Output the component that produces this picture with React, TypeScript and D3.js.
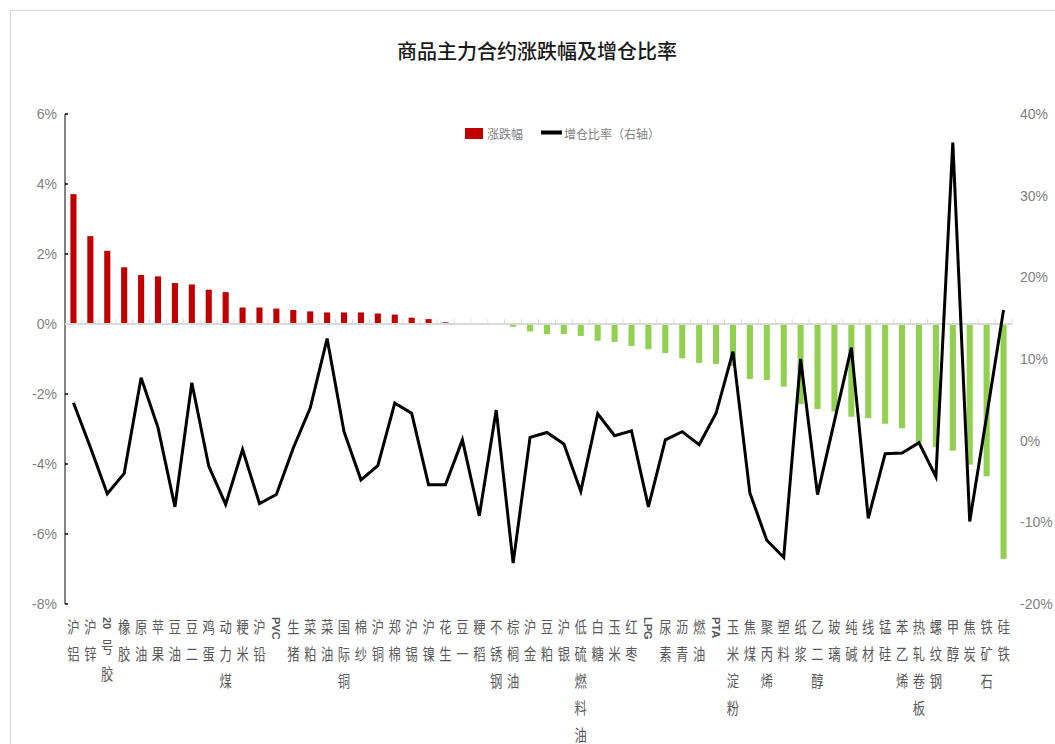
import React from "react";
import * as d3 from "d3";

const categories = [
  "沪铝", "沪锌", "20号胶", "橡胶", "原油", "苹果", "豆油", "豆二", "鸡蛋", "动力煤",
  "粳米", "沪铅", "PVC", "生猪", "菜粕", "菜油", "国际铜", "棉纱", "沪铜", "郑棉",
  "沪锡", "沪镍", "花生", "豆一", "粳稻", "不锈钢", "棕榈油", "沪金", "豆粕", "沪银",
  "低硫燃料油", "白糖", "玉米", "红枣", "LPG", "尿素", "沥青", "燃油", "PTA", "玉米淀粉",
  "焦煤", "聚丙烯", "塑料", "纸浆", "乙二醇", "玻璃", "纯碱", "线材", "锰硅", "苯乙烯",
  "热轧卷板", "螺纹钢", "甲醇", "焦炭", "铁矿石", "硅铁",
];

// 涨跌幅 (%), left axis
const changeValues = [
  3.71, 2.51, 2.09, 1.62, 1.40, 1.36, 1.17, 1.13, 0.98, 0.91,
  0.47, 0.47, 0.44, 0.40, 0.36, 0.33, 0.33, 0.33, 0.30, 0.27,
  0.18, 0.14, 0.05, 0.0, 0.0, 0.0, -0.08, -0.21, -0.29, -0.29,
  -0.34, -0.48, -0.51, -0.63, -0.72, -0.83, -0.98, -1.11, -1.14, -1.2,
  -1.57, -1.6, -1.79, -2.29, -2.43, -2.5, -2.65, -2.69, -2.85, -2.98,
  -3.38, -3.52, -3.62, -4.02, -4.35, -6.71,
];

// 增仓比率 (%), right axis
const oiRatioValues = [
  4.65, -0.8, -6.5, -4.0, 7.7, 1.6, -8.1, 7.1, -3.1, -7.8,
  -1.1, -7.7, -6.6, -0.9, 4.0, 12.5, 1.1, -4.8, -3.05, 4.6,
  3.35, -5.4, -5.4, 0.1, -9.2, 3.75, -15.0, 0.4, 1.0, -0.4,
  -6.2, 3.3, 0.6, 1.2, -8.1, 0.1, 1.1, -0.5, 3.35, 10.9,
  -6.4, -12.2, -14.3, 10.0, -6.6, 2.4, 11.4, -9.5, -1.6, -1.5,
  -0.25, -4.4, 36.5, -9.9, 3.0, 16.0,
];

const leftTicks = [6, 4, 2, 0, -2, -4, -6, -8];
const rightTicks = [40, 30, 20, 10, 0, -10, -20];

const W = 1055;
const H = 744;
const plotLeft = 65;
const plotRight = 1012;
const plotTop = 114;
const plotBottom = 604;

const AXIS_FONT = "'Liberation Sans Narrow', 'Liberation Sans', sans-serif";
const CJK_FONT = "'Noto Sans CJK SC', sans-serif";

function CategoryLabel({ label, cx }: { label: string; cx: number }) {
  const tokens = label.match(/[A-Za-z0-9]+|./g) || [];
  let cursor = 617;
  const items: React.ReactNode[] = [];
  tokens.forEach((t, k) => {
    if (/^[A-Za-z0-9]+$/.test(t)) {
      const len = t.length * 7.2;
      items.push(
        <text
          key={k}
          transform={`translate(${cx},${cursor}) rotate(90)`}
          x={0}
          y={0}
          dominantBaseline="central"
          fontFamily="'Liberation Sans', sans-serif"
          fontWeight="bold"
          fontSize={11}
          fill="#595959"
        >
          {t}
        </text>
      );
      cursor += len + 6;
    } else {
      items.push(
        <text
          key={k}
          transform={`translate(${cx},${cursor + 9}) scale(0.88,1.12)`}
          x={0}
          y={0}
          textAnchor="middle"
          dominantBaseline="central"
          fontFamily={CJK_FONT}
          fontSize={14}
          fill="#595959"
        >
          {t}
        </text>
      );
      cursor += 27;
    }
  });
  return <g>{items}</g>;
}

export default function App() {
  const x = d3
    .scaleBand<string>()
    .domain(categories)
    .range([plotLeft, plotRight])
    .paddingInner(0.64)
    .paddingOuter(0.32);
  const yL = d3.scaleLinear().domain([-8, 6]).range([plotBottom, plotTop]);
  const yR = d3.scaleLinear().domain([-20, 40]).range([plotBottom, plotTop]);
  const step = x.step();
  const bw = x.bandwidth();
  const cx = (c: string) => (x(c) as number) + bw / 2;

  const line = d3
    .line<number>()
    .x((_, i) => cx(categories[i]))
    .y((d) => yR(d));

  const zeroY = yL(0);

  return (
    <svg
      width={W}
      height={H}
      style={{ position: "absolute", left: 0, top: 0, background: "#fff" }}
    >
      <rect x={0} y={0} width={W} height={H} fill="#fff" />
      {/* outer frame */}
      <line x1={10.5} y1={10} x2={10.5} y2={H} stroke="#d9d9d9" strokeWidth={1} />
      <line x1={10} y1={10.5} x2={W} y2={10.5} stroke="#d9d9d9" strokeWidth={1} />

      {/* title */}
      <text
        x={537}
        y={50}
        textAnchor="middle"
        dominantBaseline="central"
        fontFamily={CJK_FONT}
        fontSize={20}
        fontWeight={500}
        fill="#1a1a1a"
      >
        商品主力合约涨跌幅及增仓比率
      </text>

      {/* legend */}
      <rect x={465} y={128} width={18} height={11} fill="#C00000" />
      <text x={487} y={133.5} dominantBaseline="central" fontFamily={CJK_FONT} fontSize={12} fill="#7f7f7f">
        涨跌幅
      </text>
      <line x1={541} y1={132.5} x2={562} y2={132.5} stroke="#000" strokeWidth={4} />
      <text x={564} y={133.5} dominantBaseline="central" fontFamily={CJK_FONT} fontSize={12} fill="#7f7f7f">
        增仓比率（右轴）
      </text>

      {/* left axis */}
      <line x1={plotLeft} y1={plotTop} x2={plotLeft} y2={plotBottom} stroke="#595959" strokeWidth={1.5} />
      {leftTicks.map((t) => (
        <g key={"l" + t}>
          <line x1={plotLeft} x2={plotLeft + 3} y1={yL(t)} y2={yL(t)} stroke="#000" strokeWidth={1.5} />
          <text
            x={57}
            y={yL(t)}
            textAnchor="end"
            dominantBaseline="central"
            fontFamily={AXIS_FONT}
            fontSize={14}
            fill="#7f7f7f"
          >
            {t}%
          </text>
        </g>
      ))}

      {/* right axis labels */}
      {rightTicks.map((t) => (
        <text
          key={"r" + t}
          x={1020}
          y={yR(t)}
          dominantBaseline="central"
          fontFamily={AXIS_FONT}
          fontSize={14}
          fill="#7f7f7f"
        >
          {t}%
        </text>
      ))}

      {/* bars */}
      {categories.map((c, i) => {
        const v = changeValues[i];
        if (v === 0) return null;
        const y0 = yL(Math.max(v, 0));
        const y1 = yL(Math.min(v, 0));
        return (
          <rect
            key={"b" + c}
            x={x(c)}
            y={y0}
            width={bw}
            height={Math.max(0.5, y1 - y0)}
            fill={v > 0 ? "#C00000" : "#92D050"}
          />
        );
      })}

      {/* zero axis line with category ticks */}
      <line x1={plotLeft} x2={plotRight} y1={zeroY} y2={zeroY} stroke="#d9d9d9" strokeWidth={2} />
      {categories.map((c, i) => (
        <line
          key={"t" + c}
          x1={plotLeft + step * (i + 1)}
          x2={plotLeft + step * (i + 1)}
          y1={zeroY - 5}
          y2={zeroY}
          stroke="#d9d9d9"
          strokeWidth={1}
        />
      ))}

      {/* line series */}
      <path d={line(oiRatioValues) || ""} fill="none" stroke="#000" strokeWidth={3} strokeLinejoin="miter" />

      {/* category labels */}
      {categories.map((c) => (
        <CategoryLabel key={"c" + c} label={c} cx={cx(c)} />
      ))}
    </svg>
  );
}
